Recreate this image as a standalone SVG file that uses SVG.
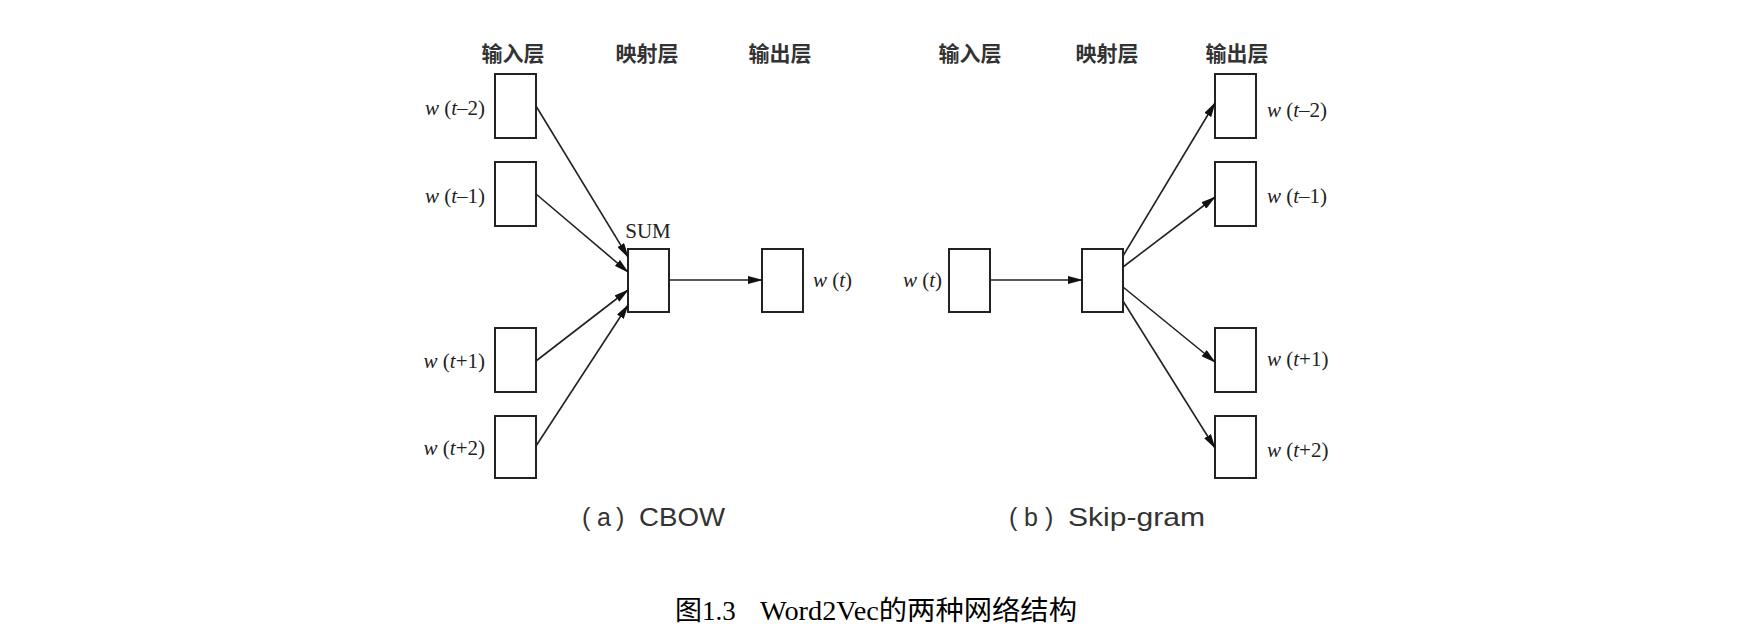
<svg xmlns="http://www.w3.org/2000/svg" width="1762" height="640" viewBox="0 0 1762 640">
<style>
.box{fill:#fff;stroke:#222;stroke-width:2}
.hdr{font-family:"Noto Sans CJK SC","Noto Sans",sans-serif;font-size:21px;font-weight:bold;fill:#333;text-anchor:middle}
.lbl{font-family:"Liberation Serif","Times New Roman",serif;font-size:21px;fill:#222}
.cap{font-family:"Liberation Sans",Arial,sans-serif;font-size:25px;fill:#333}
.ttl{font-family:"Liberation Serif","Noto Sans CJK SC",serif;font-size:27px;fill:#000}
.edge{stroke:#222;stroke-width:1.6;fill:none;marker-end:url(#arr)}
</style>
<defs>
<marker id="arr" markerUnits="userSpaceOnUse" markerWidth="15" markerHeight="8" refX="14" refY="4" orient="auto">
<path d="M0,0 L15,4 L0,8 z" fill="#111"/>
</marker>
</defs>
<rect width="1762" height="640" fill="#fff"/>

<g id="headers">
<text class="hdr" x="513" y="61">输入层</text>
<text class="hdr" x="647" y="61">映射层</text>
<text class="hdr" x="780" y="61">输出层</text>
<text class="hdr" x="970" y="61">输入层</text>
<text class="hdr" x="1107" y="61">映射层</text>
<text class="hdr" x="1237" y="61">输出层</text>
</g>

<g id="cbow-in-t-2"><rect class="box" x="495" y="74" width="41" height="64"/><text class="lbl" x="485" y="115" text-anchor="end"><tspan font-style="italic">w</tspan> (<tspan font-style="italic">t</tspan>–2)</text></g>
<g id="cbow-in-t-1"><rect class="box" x="495" y="162" width="41" height="64"/><text class="lbl" x="485" y="203" text-anchor="end"><tspan font-style="italic">w</tspan> (<tspan font-style="italic">t</tspan>–1)</text></g>
<g id="cbow-in-t+1"><rect class="box" x="495" y="328" width="41" height="64"/><text class="lbl" x="485" y="368" text-anchor="end"><tspan font-style="italic">w</tspan> (<tspan font-style="italic">t</tspan>+1)</text></g>
<g id="cbow-in-t+2"><rect class="box" x="495" y="416" width="41" height="62"/><text class="lbl" x="485" y="455" text-anchor="end"><tspan font-style="italic">w</tspan> (<tspan font-style="italic">t</tspan>+2)</text></g>
<g id="cbow-sum"><rect class="box" x="628" y="249" width="41" height="63"/><text class="lbl" x="648" y="238" text-anchor="middle" font-size="22">SUM</text></g>
<g id="cbow-out"><rect class="box" x="762" y="249" width="41" height="63"/><text class="lbl" x="813" y="287"><tspan font-style="italic">w</tspan> (<tspan font-style="italic">t</tspan>)</text></g>

<g id="sg-in"><rect class="box" x="949" y="249" width="41" height="63"/><text class="lbl" x="942" y="287" text-anchor="end"><tspan font-style="italic">w</tspan> (<tspan font-style="italic">t</tspan>)</text></g>
<g id="sg-proj"><rect class="box" x="1082" y="249" width="41" height="63"/></g>
<g id="sg-out-t-2"><rect class="box" x="1215" y="74" width="41" height="64"/><text class="lbl" x="1267" y="117"><tspan font-style="italic">w</tspan> (<tspan font-style="italic">t</tspan>–2)</text></g>
<g id="sg-out-t-1"><rect class="box" x="1215" y="162" width="41" height="64"/><text class="lbl" x="1267" y="203"><tspan font-style="italic">w</tspan> (<tspan font-style="italic">t</tspan>–1)</text></g>
<g id="sg-out-t+1"><rect class="box" x="1215" y="328" width="41" height="64"/><text class="lbl" x="1267" y="366"><tspan font-style="italic">w</tspan> (<tspan font-style="italic">t</tspan>+1)</text></g>
<g id="sg-out-t+2"><rect class="box" x="1215" y="416" width="41" height="62"/><text class="lbl" x="1267" y="457"><tspan font-style="italic">w</tspan> (<tspan font-style="italic">t</tspan>+2)</text></g>

<g id="connectors">
<line class="edge" x1="536" y1="106" x2="628" y2="257"/>
<line class="edge" x1="536" y1="194" x2="628" y2="272"/>
<line class="edge" x1="536" y1="361" x2="628" y2="290"/>
<line class="edge" x1="536" y1="446" x2="628" y2="305"/>
<line class="edge" x1="669" y1="280" x2="762" y2="280"/>
<line class="edge" x1="990" y1="280" x2="1082" y2="280"/>
<line class="edge" x1="1123" y1="256" x2="1215" y2="103"/>
<line class="edge" x1="1123" y1="267" x2="1215" y2="197"/>
<line class="edge" x1="1123" y1="287" x2="1215" y2="362"/>
<line class="edge" x1="1123" y1="301" x2="1215" y2="448"/>
</g>

<g id="captions">
<text class="cap" y="526"><tspan x="582">(</tspan><tspan x="597">a</tspan><tspan x="616">)</tspan><tspan x="639" textLength="86" lengthAdjust="spacingAndGlyphs">CBOW</tspan></text>
<text class="cap" y="526"><tspan x="1009">(</tspan><tspan x="1024">b</tspan><tspan x="1045">)</tspan><tspan x="1068" textLength="137" lengthAdjust="spacingAndGlyphs">Skip-gram</tspan></text>
<text class="ttl" y="620"><tspan x="675">图1.3</tspan><tspan x="760" textLength="317" lengthAdjust="spacingAndGlyphs">Word2Vec的两种网络结构</tspan></text>
</g>
</svg>
